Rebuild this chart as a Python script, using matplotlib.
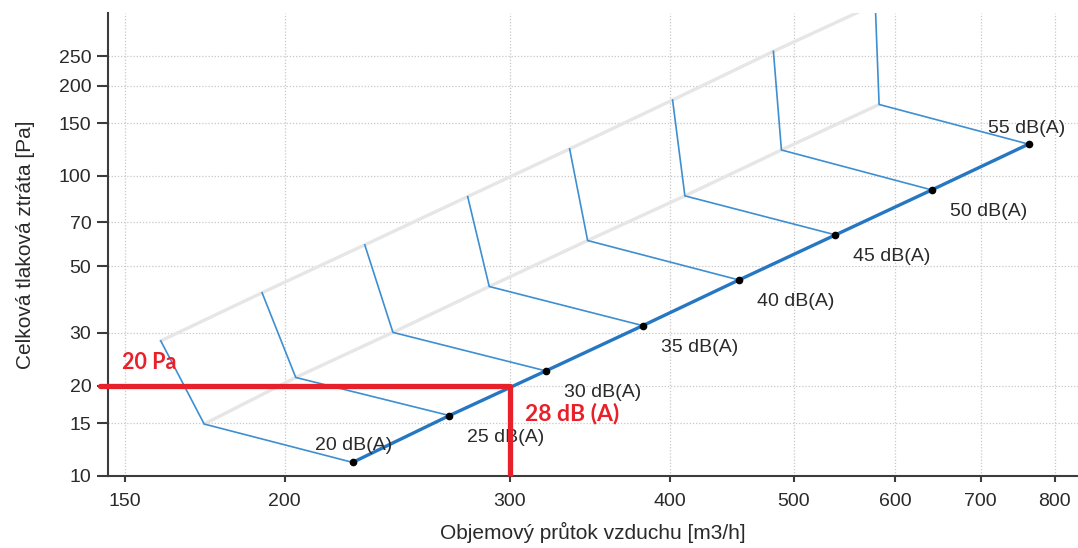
import matplotlib
matplotlib.use("Agg")
import matplotlib.pyplot as plt
from matplotlib.ticker import FixedLocator, FixedFormatter, NullLocator

plt.rcParams['font.family'] = ['Liberation Sans', 'DejaVu Sans']

# Noise levels of the unit and the corresponding curve points
levels = [20, 25, 30, 35, 40, 45, 50, 55]
level_labels = [f"{v} dB(A)" for v in levels]

# Operating points on the system curve (airflow m3/h, pressure Pa)
flow_op = [226, 269, 320, 381, 453, 539, 641, 763]
press_op = [11.1, 15.9, 22.4, 31.7, 45.0, 63.6, 89.8, 127.6]

# Knee points of each iso-noise curve
flow_knee = [173, 204, 243, 289, 345, 411, 489, 583]
press_knee = [14.9, 21.3, 30.1, 42.8, 60.9, 85.8, 122, 173]

# Upper end points of each iso-noise curve
flow_top = [160, 192, 231, 278, 334, 402, 482, 579]
press_top = [28.2, 40.8, 58.9, 85.3, 123, 179, 260, 373]

# Selected working point
sel_flow = 300
sel_press = 20
sel_press_text = "20 Pa"
sel_level_text = "28 dB (A)"

x_ticks = [150, 200, 300, 400, 500, 600, 700, 800]
y_ticks = [10, 15, 20, 30, 50, 70, 100, 150, 200, 250]

TXT = '#2a2a2a'

fig = plt.figure(figsize=(10.78, 5.48), dpi=100)
ax = fig.add_axes([108 / 1078, 72 / 548, 970 / 1078, 463 / 548])
ax.set_xscale('log')
ax.set_yscale('log')
ax.set_xlim(145.5, 834)
ax.set_ylim(10, 349)

ax.xaxis.set_major_locator(FixedLocator(x_ticks))
ax.xaxis.set_major_formatter(FixedFormatter([str(v) for v in x_ticks]))
ax.yaxis.set_major_locator(FixedLocator(y_ticks))
ax.yaxis.set_major_formatter(FixedFormatter([str(v) for v in y_ticks]))
ax.xaxis.set_minor_locator(NullLocator())
ax.yaxis.set_minor_locator(NullLocator())

ax.grid(True, which='major', color='#c8c8c8', linestyle=(0, (1, 1.5)), linewidth=0.9)
ax.set_axisbelow(True)

for s in ('top', 'right'):
    ax.spines[s].set_visible(False)
for s in ('left', 'bottom'):
    ax.spines[s].set_color('#3c3c3c')
    ax.spines[s].set_linewidth(1.5)

ax.tick_params(axis='y', direction='out', length=8, width=1.5, color='#3c3c3c',
               labelsize=14, labelcolor=TXT, pad=4)
ax.tick_params(axis='x', direction='out', length=4, width=1.5, color='#3c3c3c',
               labelsize=14, labelcolor=TXT, pad=8)

ax.set_xlabel("Objemový průtok vzduchu [m3/h]", fontsize=15, color=TXT, labelpad=9)
ax.set_ylabel("Celková tlaková ztráta [Pa]", fontsize=15, color=TXT, labelpad=17)

# Light guide lines through knees and end points
ax.plot(flow_knee, press_knee, color='#e6e6e6', lw=2.4, zorder=2, solid_capstyle='round')
ax.plot(flow_top, press_top, color='#e6e6e6', lw=2.4, zorder=2, solid_capstyle='round')

# Iso-noise curves
thin_blue = '#3d8fd1'
for i in range(len(levels)):
    ax.plot([flow_op[i], flow_knee[i], flow_top[i]],
            [press_op[i], press_knee[i], press_top[i]],
            color=thin_blue, lw=1.2, zorder=3)

# System curve
ax.plot(flow_op, press_op, color='#2677c2', lw=2.4, zorder=4, solid_capstyle='round')
ax.plot(flow_op, press_op, linestyle='none', marker='o', markersize=4.5,
        color='black', zorder=5)

for i, lab in enumerate(level_labels):
    if i == 0:
        off = (-38, 17)
    elif i == len(levels) - 1:
        off = (-41, 16)
    else:
        off = (18, -22)
    ax.annotate(lab, (flow_op[i], press_op[i]), xytext=off, textcoords='offset pixels',
                ha='left', va='center', fontsize=14, color=TXT, zorder=6)

# Working point guides
red = '#e8202a'
ax.plot([ax.get_xlim()[0] * 0.985, sel_flow], [sel_press, sel_press], color=red, lw=3.8,
        solid_capstyle='round', clip_on=False, zorder=7)
ax.plot([sel_flow, sel_flow], [10, sel_press], color=red, lw=3.8,
        solid_capstyle='butt', clip_on=False, zorder=7)
ax.annotate(sel_press_text, (ax.get_xlim()[0], sel_press), xytext=(14, 23),
            textcoords='offset pixels', ha='left', va='center', fontsize=15.5,
            fontweight='bold', color=red, family=['Lato', 'DejaVu Sans'], zorder=8)
ax.annotate(sel_level_text, (sel_flow, sel_press), xytext=(15, -28),
            textcoords='offset pixels', ha='left', va='center', fontsize=16.5,
            fontweight='bold', color=red, family=['Lato', 'DejaVu Sans'], zorder=8)

fig.savefig('out.png', dpi=100)
